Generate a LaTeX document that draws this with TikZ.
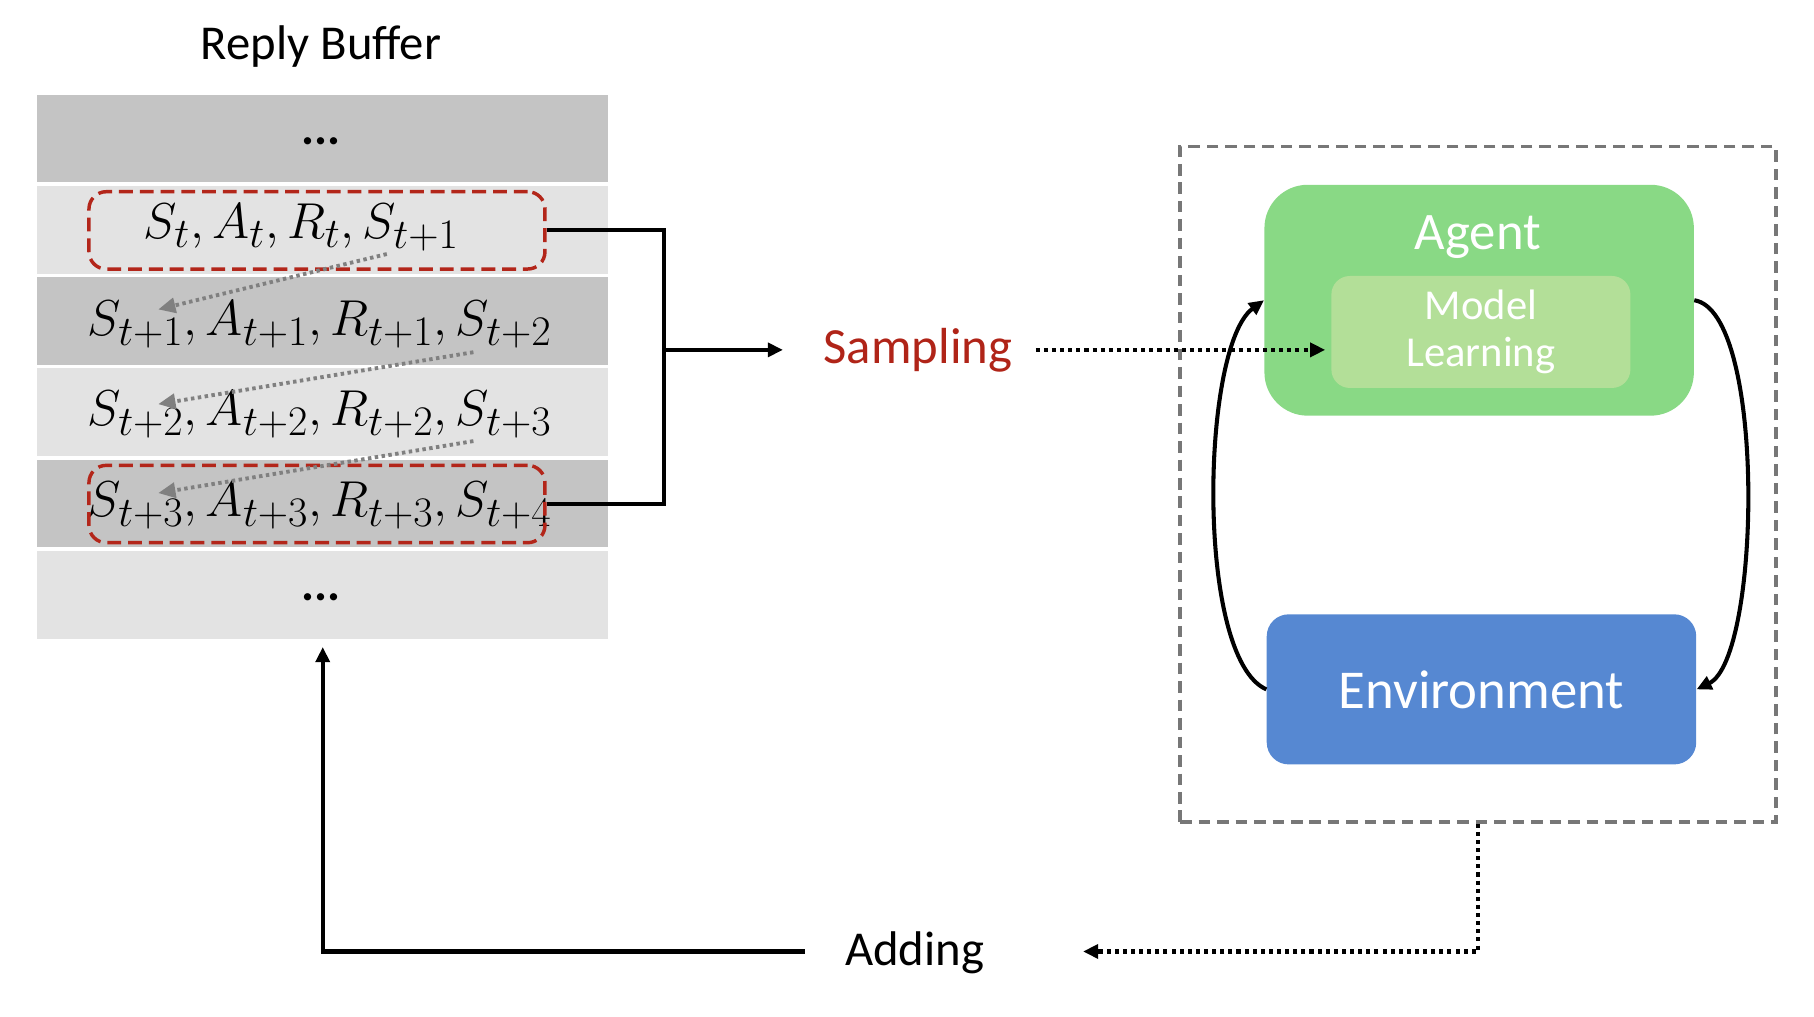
\documentclass[tikz,border=0pt]{standalone}
\usepackage{fontspec}
\setmainfont{Carlito}
\usetikzlibrary{arrows.meta,calc}
\definecolor{rowdark}{HTML}{C4C4C4}
\definecolor{rowlight}{HTML}{E3E3E3}
\definecolor{redd}{HTML}{B3261A}
\definecolor{sampred}{HTML}{B02418}
\definecolor{agentgreen}{HTML}{89D985}
\definecolor{mlgreen}{HTML}{B3DF98}
\definecolor{envblue}{HTML}{5688D2}
\definecolor{boxgray}{HTML}{777777}
\definecolor{arrgray}{HTML}{808080}
\tikzset{
  bufrow/.style={minimum width=9.9cm,minimum height=1.52cm,inner sep=0pt,draw=none},
  redbox/.style={draw=redd,line width=1.7pt,dash pattern=on 0.24cm off 0.12cm,rounded corners=0.3cm,minimum width=7.9cm,minimum height=1.34cm,inner sep=0pt},
  mathtxt/.style={inner sep=0pt,font=\fontsize{29}{32}\selectfont},
  grayarr/.style={draw=arrgray,line width=1.9pt,dash pattern=on 1.7pt off 1.7pt,-{Triangle[length=0.3cm,width=0.26cm]}},
  blk/.style={line width=2pt},
  blktip/.style={-{Triangle[length=0.26cm,width=0.24cm]}},
  dotline/.style={line width=2pt,dash pattern=on 2pt off 2pt},
  lbl/.style={inner sep=0pt},
}
\begin{document}
\begin{tikzpicture}[x=0.02cm,y=-0.02cm]
\useasboundingbox (0,0) rectangle (1571,880);
% title
\node[lbl,font=\fontsize{24}{28}\selectfont] (title) at (278,40) {Reply Buffer};
% buffer rows
\node[bufrow,fill=rowdark] (r1) at (279.5,120) {};
\node[bufrow,fill=rowlight] (r2) at (279.5,199) {};
\node[bufrow,fill=rowdark] (r3) at (279.5,278) {};
\node[bufrow,fill=rowlight] (r4) at (279.5,357) {};
\node[bufrow,fill=rowdark] (r5) at (279.5,436) {};
\node[bufrow,fill=rowlight] (r6) at (279.5,515) {};
\node[lbl,font=\fontsize{24}{28}\selectfont\bfseries] (d1) at (278,122) {...};
\node[lbl,font=\fontsize{24}{28}\selectfont\bfseries] (d6) at (278,517) {...};
% row texts
\node[mathtxt] (t2) at (261,197) {$S_t, A_t, R_t, S_{t+1}$};
\node[mathtxt] (t3) at (277,281) {$S_{t+1}, A_{t+1}, R_{t+1}, S_{t+2}$};
\node[mathtxt] (t4) at (277,359) {$S_{t+2}, A_{t+2}, R_{t+2}, S_{t+3}$};
\node[mathtxt] (t5) at (277,438) {$S_{t+3}, A_{t+3}, R_{t+3}, S_{t+4}$};
% red dashed boxes
\node[redbox] (redA) at (274.5,199.5) {};
\node[redbox] (redB) at (274.5,436.5) {};
% gray dotted arrows
\coordinate (g1s) at (335,220); \coordinate (g1e) at (137,268);
\coordinate (g2s) at (410,305); \coordinate (g2e) at (137,350);
\coordinate (g3s) at (410,382); \coordinate (g3e) at (137,427);
\draw[grayarr] (g1s) -- (g1e);
\draw[grayarr] (g2s) -- (g2e);
\draw[grayarr] (g3s) -- (g3e);
% sampling connector
\coordinate (j) at (575,303);
\coordinate (sampIn) at (678,303);
\coordinate (sampOut) at (897,303);
\draw[blk] (redA.east) -| (j) |- (redB.east);
\draw[blk,blktip] (j) -- (sampIn);
\node[lbl,text=sampred,font=\fontsize{25}{28}\selectfont] (samp) at (795,303) {Sampling};
% system box
\node[draw=boxgray,line width=1.7pt,dash pattern=on 0.2cm off 0.12cm,minimum width=10.32cm,minimum height=11.7cm,inner sep=0pt] (sys) at (1280,419.5) {};
% agent
\node[fill=agentgreen,rounded corners=0.75cm,minimum width=7.44cm,minimum height=4cm,inner sep=0pt] (agent) at (1281,260) {};
\node[lbl,text=white,font=\fontsize{26}{30}\selectfont] (agtxt) at (1280,205) {Agent};
\node[fill=mlgreen,rounded corners=0.32cm,minimum width=5.18cm,minimum height=1.94cm,inner sep=0pt,text=white,align=center,font=\fontsize{21}{25}\selectfont] (ml) at (1282.5,287.5) {Model\\[-2pt]Learning};
% environment
\node[fill=envblue,rounded corners=0.38cm,minimum width=7.44cm,minimum height=2.6cm,inner sep=0pt,text=white,font=\fontsize{27}{30}\selectfont] (env) at (1283,597) {Environment};
% sampling dotted arrow
\draw[dotline,blktip] (sampOut) -- ($(ml.west |- sampOut)+(-5,0)$);
% loop curves
\draw[blk,blktip] (env.west) .. controls (1035,570) and (1040,300) .. (agent.west);
\draw[blk,blktip] (agent.east) .. controls (1530,270) and (1525,570) .. (env.east);
% adding
\coordinate (addR) at (938,824);
\coordinate (addL) at (697,824);
\node[lbl,font=\fontsize{24}{28}\selectfont] (add) at (792,825) {Adding};
\draw[dotline,blktip] (sys.south) |- (addR);
\draw[blk,blktip,shorten >=4pt] (addL) -| (r6.south);
\end{tikzpicture}
\end{document}
